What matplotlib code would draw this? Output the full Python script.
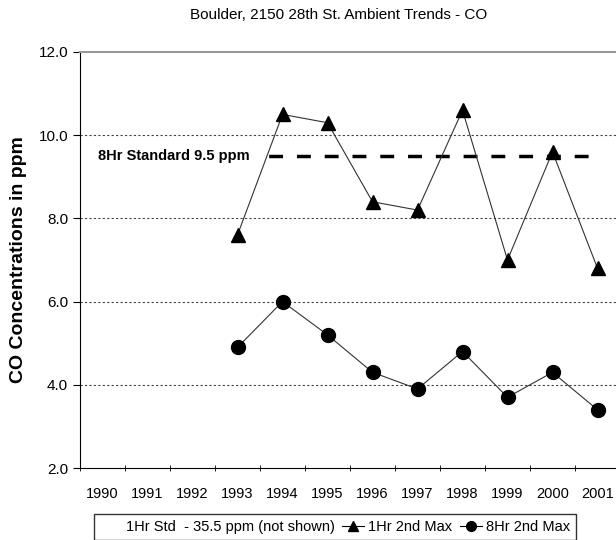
import matplotlib
matplotlib.use('Agg')

import matplotlib.pyplot as plt
from matplotlib.lines import Line2D

plt.rcParams['font.family'] = ['Liberation Sans', 'DejaVu Sans']

# ==============================
# DATA
# ==============================

years = ["1990", "1991", "1992", "1993", "1994", "1995",
         "1996", "1997", "1998", "1999", "2000", "2001"]
data_years = ["1993", "1994", "1995", "1996", "1997", "1998", "1999", "2000", "2001"]
max_1hr = [7.6, 10.5, 10.3, 8.4, 8.2, 10.6, 7.0, 9.6, 6.8]
max_8hr = [4.9, 6.0, 5.2, 4.3, 3.9, 4.8, 3.7, 4.3, 3.4]
std_8hr = [9.5] * len(years)
yticks = [2.0, 4.0, 6.0, 8.0, 10.0, 12.0]

# ==============================
# PLOT
# ==============================

fig = plt.figure(figsize=(6.16, 5.40), dpi=100)
ax = fig.add_axes([80 / 616, 72 / 540, 540 / 616, 416 / 540])

x_all = list(range(len(years)))
x_data = [years.index(y) for y in data_years]

# dotted gridlines
for v in yticks[1:-1]:
    ax.axhline(v, color='#444444', lw=0.8, ls=(0, (2, 2)), zorder=1)

# 8hr standard line + label (label box hides the left part)
ax.plot(x_all, std_8hr, color='black', lw=2.5, ls=(0, (4, 4)), zorder=2)
ax.text(-0.1, 9.5, "8Hr Standard 9.5 ppm", fontsize=10.5, fontweight='bold',
        va='center', ha='left', zorder=3,
        bbox=dict(facecolor='white', edgecolor='none', pad=7))

ax.plot(x_data, max_1hr, color='#333333', lw=0.8, marker='^', ms=10,
        mfc='black', mec='black', zorder=4)
ax.plot(x_data, max_8hr, color='#333333', lw=0.8, marker='o', ms=10,
        mfc='black', mec='black', zorder=4)

ax.set_xlim(-0.5, 11.5)
ax.set_ylim(2.0, 12.0)
ax.set_yticks(yticks)
ax.set_yticklabels([f"{v:.1f}" for v in yticks], fontsize=11)
ax.set_xticks(x_all)
ax.set_xticklabels(years, fontsize=10.5)
ax.set_xticks([i - 0.5 for i in range(len(years) + 1)], minor=True)
ax.tick_params(axis='x', which='major', length=0, pad=14)
ax.tick_params(axis='x', which='minor', length=5, direction='inout')
ax.tick_params(axis='y', length=5, direction='out')

ax.spines['right'].set_visible(False)
ax.spines['top'].set_color('#999999')
ax.spines['top'].set_linewidth(1.5)

ax.set_ylabel("CO Concentrations in ppm", fontsize=14, fontweight='bold', labelpad=8)
fig.text(339 / 616, 1 - 15 / 540, "Boulder, 2150 28th St. Ambient Trends - CO",
         fontsize=11, ha='center', va='center')

# legend
handles = [
    Line2D([], [], ls='none'),
    Line2D([], [], color='black', lw=0.8, marker='^', ms=7),
    Line2D([], [], color='black', lw=0.8, marker='o', ms=7),
]
labels = ["1Hr Std  - 35.5 ppm (not shown)", "1Hr 2nd Max", "8Hr 2nd Max"]
leg = fig.legend(handles, labels, loc='upper left', bbox_to_anchor=(94 / 616, 1 - 514 / 540),
                 ncol=3, fontsize=10.5, frameon=True, fancybox=False,
                 handlelength=1.5, handletextpad=0.3, columnspacing=0.5,
                 borderpad=0.4, borderaxespad=0)
leg.get_frame().set_edgecolor('black')
leg.get_frame().set_linewidth(1.0)

plt.savefig("out.png", dpi=100)
